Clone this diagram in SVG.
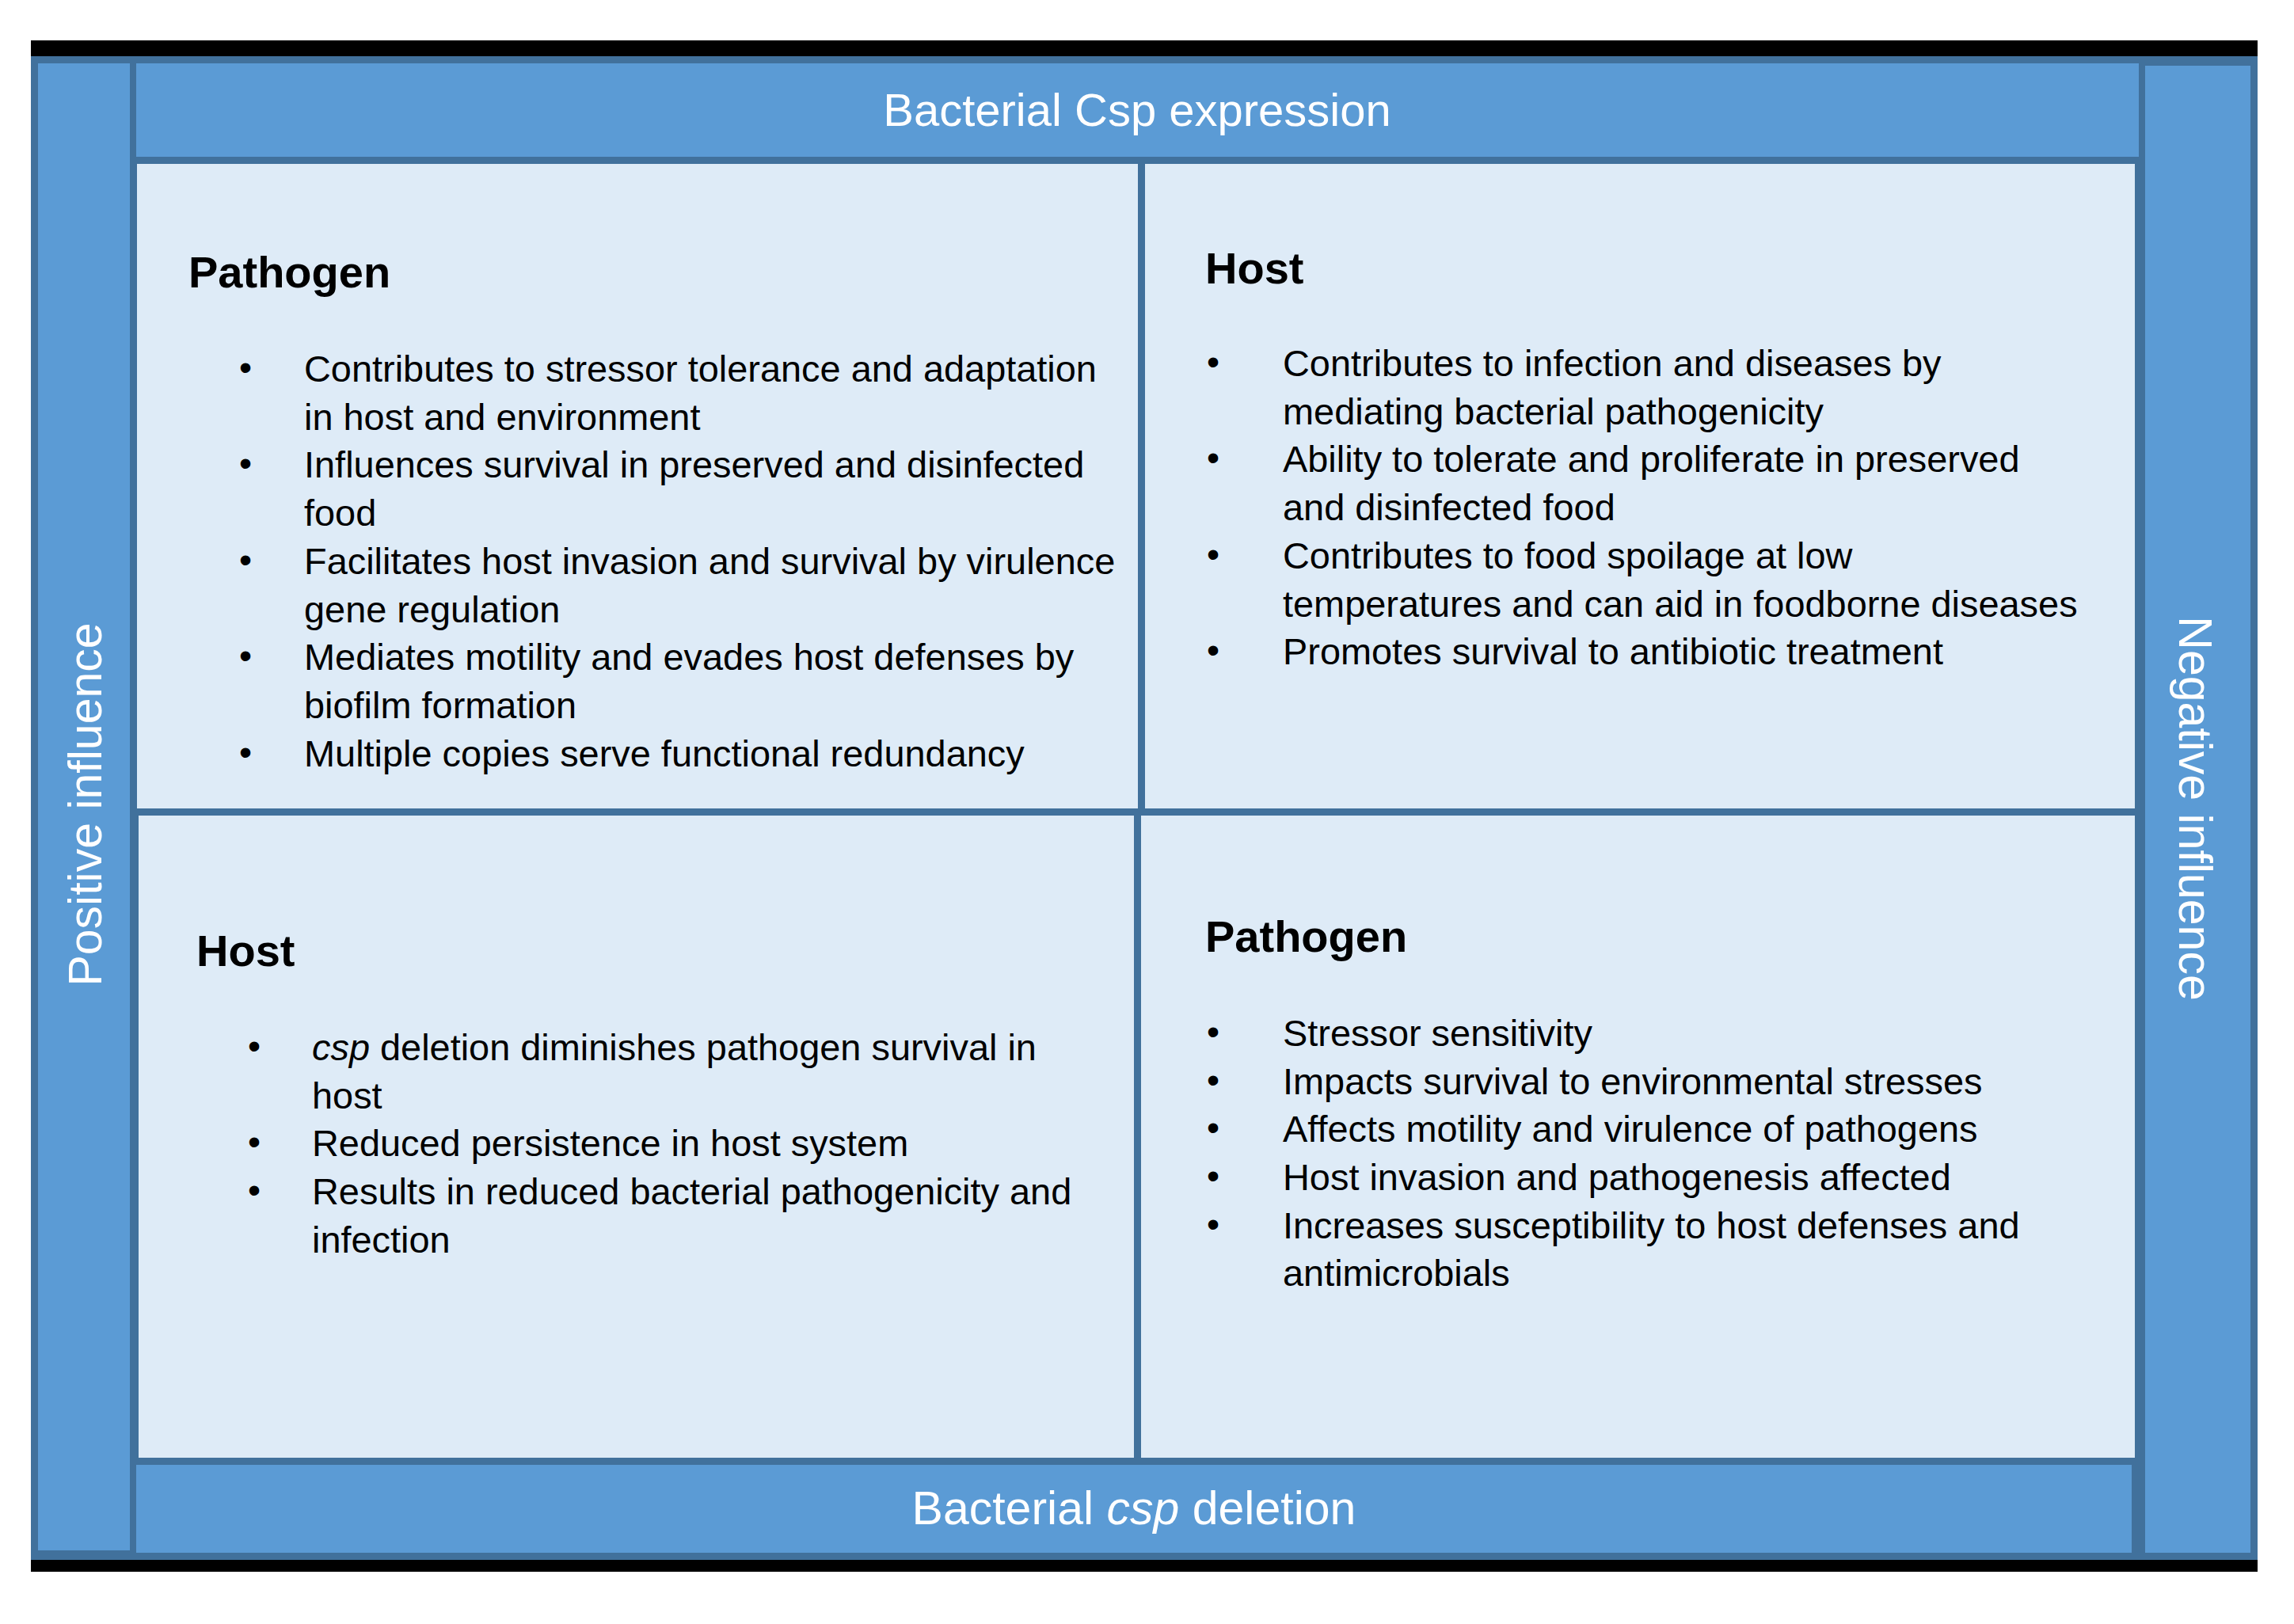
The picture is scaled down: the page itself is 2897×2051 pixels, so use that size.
<svg xmlns="http://www.w3.org/2000/svg" width="2897" height="2051" viewBox="0 0 2897 2051">
<style>
.band{fill:#5B9BD5}
.quad{fill:#DEEBF7}
.lbl{font-family:"Liberation Sans",Arial,sans-serif;font-size:59px;fill:#FFFFFF}
.hd{font-family:"Liberation Sans",Arial,sans-serif;font-size:56px;font-weight:bold;fill:#000000}
.tx{font-family:"Liberation Sans",Arial,sans-serif;font-size:46.9px;fill:#000000}
.bu{font-family:"Liberation Sans",Arial,sans-serif;font-size:46px;fill:#000000;text-anchor:middle}
</style>
<rect x="0" y="0" width="2897" height="2051" fill="#FFFFFF"/>
<g id="frame">
<rect x="39" y="51" width="2812" height="1934" fill="#000000"/>
<rect x="39" y="71" width="2812" height="1899" fill="#41719C"/>
</g>
<g id="positive-influence">
<rect class="band" x="48" y="80" width="116" height="1878"/>
<text class="lbl" transform="translate(128,1016) rotate(-90)" text-anchor="middle">Positive influence</text>
</g>
<g id="negative-influence">
<rect class="band" x="2709" y="83" width="133" height="1878"/>
<text class="lbl" transform="translate(2752,1021) rotate(90)" text-anchor="middle">Negative influence</text>
</g>
<g id="csp-expression">
<rect class="band" x="172" y="80" width="2529" height="118"/>
<text class="lbl" x="1436" y="159" text-anchor="middle" style="font-size:58px">Bacterial Csp expression</text>
</g>
<g id="csp-deletion">
<rect class="band" x="172" y="1850" width="2520" height="111"/>
<text class="lbl" x="1432" y="1925" text-anchor="middle">Bacterial <tspan font-style="italic">csp</tspan> deletion</text>
</g>
<g id="top-left-pathogen">
<rect class="quad" x="173" y="207" width="1264" height="814"/>
<text class="hd" x="238" y="363">Pathogen</text>
<text class="bu" x="310" y="480">•</text>
<text class="tx" x="384" y="482">Contributes to stressor tolerance and adaptation</text>
<text class="tx" x="384" y="543">in host and environment</text>
<text class="bu" x="310" y="601">•</text>
<text class="tx" x="384" y="603">Influences survival in preserved and disinfected</text>
<text class="tx" x="384" y="664">food</text>
<text class="bu" x="310" y="723">•</text>
<text class="tx" x="384" y="725">Facilitates host invasion and survival by virulence</text>
<text class="tx" x="384" y="786">gene regulation</text>
<text class="bu" x="310" y="844">•</text>
<text class="tx" x="384" y="846">Mediates motility and evades host defenses by</text>
<text class="tx" x="384" y="907">biofilm formation</text>
<text class="bu" x="310" y="966">•</text>
<text class="tx" x="384" y="968">Multiple copies serve functional redundancy</text>
</g>
<g id="top-right-host">
<rect class="quad" x="1446" y="207" width="1250" height="814"/>
<text class="hd" x="1522" y="358">Host</text>
<text class="bu" x="1532" y="473">•</text>
<text class="tx" x="1620" y="475">Contributes to infection and diseases by</text>
<text class="tx" x="1620" y="536">mediating bacterial pathogenicity</text>
<text class="bu" x="1532" y="594">•</text>
<text class="tx" x="1620" y="596">Ability to tolerate and proliferate in preserved</text>
<text class="tx" x="1620" y="657">and disinfected food</text>
<text class="bu" x="1532" y="716">•</text>
<text class="tx" x="1620" y="718">Contributes to food spoilage at low</text>
<text class="tx" x="1620" y="779">temperatures and can aid in foodborne diseases</text>
<text class="bu" x="1532" y="837">•</text>
<text class="tx" x="1620" y="839">Promotes survival to antibiotic treatment</text>
</g>
<g id="bottom-left-host">
<rect class="quad" x="175" y="1030" width="1257" height="811"/>
<text class="hd" x="248" y="1220">Host</text>
<text class="bu" x="321" y="1337">•</text>
<text class="tx" x="394" y="1339"><tspan font-style="italic">csp</tspan> deletion diminishes pathogen survival in</text>
<text class="tx" x="394" y="1400">host</text>
<text class="bu" x="321" y="1458">•</text>
<text class="tx" x="394" y="1460">Reduced persistence in host system</text>
<text class="bu" x="321" y="1519">•</text>
<text class="tx" x="394" y="1521">Results in reduced bacterial pathogenicity and</text>
<text class="tx" x="394" y="1582">infection</text>
</g>
<g id="bottom-right-pathogen">
<rect class="quad" x="1441" y="1030" width="1255" height="811"/>
<text class="hd" x="1522" y="1202">Pathogen</text>
<text class="bu" x="1532" y="1319">•</text>
<text class="tx" x="1620" y="1321">Stressor sensitivity</text>
<text class="bu" x="1532" y="1380">•</text>
<text class="tx" x="1620" y="1382">Impacts survival to environmental stresses</text>
<text class="bu" x="1532" y="1440">•</text>
<text class="tx" x="1620" y="1442">Affects motility and virulence of pathogens</text>
<text class="bu" x="1532" y="1501">•</text>
<text class="tx" x="1620" y="1503">Host invasion and pathogenesis affected</text>
<text class="bu" x="1532" y="1562">•</text>
<text class="tx" x="1620" y="1564">Increases susceptibility to host defenses and</text>
<text class="tx" x="1620" y="1624">antimicrobials</text>
</g>
<g id="connectors"></g>
</svg>
